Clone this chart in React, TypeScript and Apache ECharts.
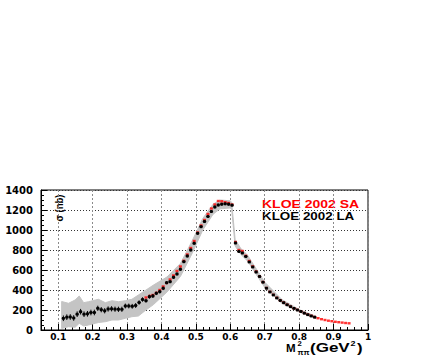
import React, { useEffect, useRef } from "react";
import * as echarts from "echarts";

// KLOE 2002 LA (black points with error bars)
const laX = [
  0.115, 0.125, 0.135, 0.145, 0.155, 0.165, 0.175, 0.185, 0.195, 0.205,
  0.215, 0.225, 0.235, 0.245, 0.255, 0.265, 0.275, 0.285, 0.295, 0.305,
  0.315, 0.325, 0.335, 0.345, 0.355, 0.365, 0.375, 0.385, 0.395, 0.405,
  0.415, 0.425, 0.435, 0.445, 0.455, 0.465, 0.475, 0.485, 0.495, 0.505,
  0.515, 0.525, 0.535, 0.545, 0.555, 0.565, 0.575, 0.585, 0.595, 0.605,
  0.615, 0.625, 0.635, 0.645, 0.655, 0.665, 0.675, 0.685, 0.695, 0.705,
  0.715, 0.725, 0.735, 0.745, 0.755, 0.765, 0.775, 0.785, 0.795, 0.805,
  0.815, 0.825, 0.835, 0.845,
];
const laY = [
  117, 128, 130, 120, 158, 183, 158, 162, 175, 175,
  217, 203, 192, 210, 212, 208, 207, 207, 240, 240,
  237, 245, 275, 305, 293, 333, 340, 367, 383, 417,
  473, 483, 527, 560, 607, 683, 740, 800, 867, 967,
  1033, 1085, 1135, 1185, 1230, 1250, 1258, 1262, 1258, 1248,
  870, 785, 770, 735, 680, 630, 580, 535, 478, 418,
  380, 350, 320, 295, 273, 252, 233, 216, 200, 185,
  168, 153, 140, 128,
];
const laErr = [
  28, 28, 28, 28, 28, 28, 28, 28, 28, 28,
  26, 26, 26, 26, 26, 26, 26, 26, 24, 24,
  24, 24, 22, 22, 20, 20, 20, 18, 18, 18,
  16, 16, 16, 16, 16, 15, 15, 15, 15, 15,
  15, 15, 15, 15, 15, 15, 15, 15, 15, 15,
  12, 12, 12, 10, 10, 10, 10, 10, 10, 10,
  8, 8, 8, 8, 8, 8, 8, 6, 6, 6,
  6, 6, 6, 6,
];

// KLOE 2002 SA (red points)
const saX = [
  0.355, 0.365, 0.375, 0.385, 0.395, 0.405, 0.415, 0.425, 0.435, 0.445,
  0.455, 0.465, 0.475, 0.485, 0.495, 0.505, 0.515, 0.525, 0.535, 0.545,
  0.555, 0.565, 0.575, 0.585, 0.595, 0.605, 0.615, 0.625, 0.635, 0.645,
  0.655, 0.665, 0.675, 0.685, 0.695, 0.705, 0.715, 0.725, 0.735, 0.745,
  0.755, 0.765, 0.775, 0.785, 0.795, 0.805, 0.815, 0.825, 0.835, 0.845,
  0.855, 0.865, 0.875, 0.885, 0.895, 0.905, 0.915, 0.925, 0.935, 0.945,
];
const saY = [
  325, 340, 350, 372, 400, 435, 470, 505, 545, 590,
  635, 692, 755, 820, 890, 975, 1045, 1100, 1160, 1215,
  1255, 1290, 1287, 1278, 1270, 1255, 880, 800, 790, 742,
  690, 636, 585, 537, 480, 420, 382, 352, 322, 297,
  275, 253, 234, 217, 201, 186, 170, 155, 142, 130,
  118, 108, 100, 93, 88, 82, 78, 74, 70, 67,
];

// systematic band (grey)
const bandX = [
  0.11, 0.13, 0.149, 0.161, 0.174, 0.188, 0.208, 0.217, 0.237, 0.256,
  0.275, 0.295, 0.314, 0.333, 0.353, 0.377, 0.416, 0.455, 0.489, 0.52,
  0.55, 0.57, 0.6, 0.604, 0.614, 0.63, 0.65, 0.7, 0.75, 0.8, 0.85,
];
const bandHi = [
  285, 267, 300, 340, 273, 283, 300, 307, 273, 293,
  283, 293, 307, 350, 395, 450, 530, 665, 890, 1115,
  1258, 1300, 1292, 1275, 905, 818, 748, 478, 304, 205, 135,
];
const bandLo = [
  15, 33, 27, 67, 40, 50, 67, 75, 83, 100,
  100, 117, 133, 140, 195, 255, 380, 535, 765, 1000,
  1158, 1212, 1220, 1205, 840, 758, 690, 425, 266, 180, 112,
];

const binHalfWidth = 0.005;
const xMin = 0.05;
const xMax = 1.0;
const yMin = 0;
const yMax = 1400;
const yStep = 200;

const legendSA = "KLOE 2002 SA";
const legendLA = "KLOE 2002 LA";
const yTitle = "σ (nb)";

const AXIS_FONT = "'DejaVu Sans', sans-serif";
const TXT_FONT = "'Liberation Sans', Arial, sans-serif";

export default function App() {
  const ref = useRef<HTMLDivElement>(null);

  useEffect(() => {
    if (!ref.current) return;
    const chart = echarts.init(ref.current, undefined, { renderer: "svg" });

    const laData = laX.map((x, i) => [x, laY[i], laErr[i]]);
    const saData = saX.map((x, i) => [x, saY[i]]);
    const bandData = bandX.map((x, i) => [x, bandLo[i], bandHi[i]]);

    const txt = (
      text: string,
      x: number,
      y: number,
      size: number,
      scaleX: number,
      fill = "#000"
    ) => ({
      type: "text",
      x,
      y,
      scaleX,
      style: {
        text,
        fill,
        font: `bold ${size}px ${TXT_FONT}`,
        align: "left",
        verticalAlign: "middle",
      },
    });

    const option: any = {
      animation: false,
      backgroundColor: "#ffffff",
      grid: {
        left: 41,
        right: 73,
        top: 190,
        bottom: 26,
        show: true,
        borderColor: "#000",
        borderWidth: 1,
        backgroundColor: "transparent",
      },
      xAxis: {
        type: "value",
        min: xMin,
        max: xMax,
        splitNumber: 10,
        axisLine: { show: true, lineStyle: { color: "#000", width: 1 } },
        axisTick: { show: true, inside: true, length: 6, lineStyle: { color: "#000" } },
        minorTick: { show: true, splitNumber: 5, length: 3, lineStyle: { color: "#000" } },
        axisLabel: {
          showMinLabel: false,
          margin: 2,
          color: "#000",
          fontFamily: AXIS_FONT,
          fontWeight: "bold",
          fontSize: 9,
        },
        splitLine: { show: true, lineStyle: { color: "#8a8a8a", type: [2, 2], width: 1 } },
      },
      yAxis: {
        type: "value",
        min: yMin,
        max: yMax,
        interval: yStep,
        axisLine: { show: true, lineStyle: { color: "#000", width: 1 } },
        axisTick: { show: true, inside: true, length: 6, lineStyle: { color: "#000" } },
        minorTick: { show: true, splitNumber: 4, length: 3, lineStyle: { color: "#000" } },
        axisLabel: {
          margin: 8,
          color: "#000",
          fontFamily: AXIS_FONT,
          fontWeight: "bold",
          fontSize: 10,
          formatter: (v: number) => String(v),
        },
        splitLine: { show: true, lineStyle: { color: "#333", type: [1, 2], width: 1 } },
      },
      series: [
        {
          type: "custom",
          name: "band",
          z: 1,
          silent: true,
          data: bandData,
          encode: { x: 0, y: [1, 2] },
          renderItem: (params: any, api: any) => {
            if (params.dataIndex !== 0) return { type: "group", children: [] };
            const pts: number[][] = [];
            for (let i = 0; i < bandX.length; i++) pts.push(api.coord([bandX[i], bandHi[i]]));
            for (let i = bandX.length - 1; i >= 0; i--) pts.push(api.coord([bandX[i], bandLo[i]]));
            return {
              type: "polygon",
              shape: { points: pts },
              style: { fill: "#c4c4c4", stroke: "#c4c4c4", lineWidth: 1 },
            };
          },
        },
        {
          type: "scatter",
          name: legendSA,
          z: 3,
          data: saData,
          symbol: "rect",
          symbolSize: [3, 2.4],
          itemStyle: { color: "#ff0000" },
        },
        {
          type: "custom",
          name: legendLA,
          z: 4,
          data: laData,
          encode: { x: 0, y: 1 },
          renderItem: (params: any, api: any) => {
            const x = api.value(0);
            const y = api.value(1);
            const e = api.value(2);
            const c = api.coord([x, y]);
            const t = api.coord([x, y + e]);
            const b = api.coord([x, y - e]);
            const l = api.coord([x - binHalfWidth, y]);
            const r = api.coord([x + binHalfWidth, y]);
            return {
              type: "group",
              children: [
                {
                  type: "line",
                  shape: { x1: l[0], y1: c[1], x2: r[0], y2: c[1] },
                  style: { stroke: "#000", lineWidth: 1 },
                },
                {
                  type: "line",
                  shape: { x1: c[0], y1: t[1], x2: c[0], y2: b[1] },
                  style: { stroke: "#000", lineWidth: 1 },
                },
                {
                  type: "rect",
                  shape: { x: c[0] - 1.4, y: c[1] - 1.4, width: 2.8, height: 2.8 },
                  style: { fill: "#000" },
                },
              ],
            };
          },
        },
      ],
      graphic: [
        txt(legendSA, 262, 205, 10, 1.4, "#ff0000"),
        txt(legendLA, 262, 216.5, 10, 1.34),
        {
          type: "text",
          x: 59,
          y: 208,
          rotation: Math.PI / 2,
          scaleY: 1.2,
          style: {
            text: yTitle,
            fill: "#000",
            font: `bold 9.5px ${TXT_FONT}`,
            align: "center",
            verticalAlign: "middle",
          },
        },
        txt("M", 286, 348, 11, 1.05),
        txt("2", 297.5, 344, 7, 1.1),
        txt("ππ", 297.5, 353, 6.5, 1.2),
        txt("(GeV", 310, 348, 12, 1.42),
        txt("2", 350.5, 344, 7.5, 1.2),
        txt(")", 357, 348, 12, 1.4),
      ],
    };

    chart.setOption(option);
    return () => {
      chart.dispose();
    };
  }, []);

  return (
    <div
      ref={ref}
      style={{
        position: "fixed",
        left: 0,
        top: 0,
        width: 441,
        height: 356,
        background: "#fff",
      }}
    />
  );
}
